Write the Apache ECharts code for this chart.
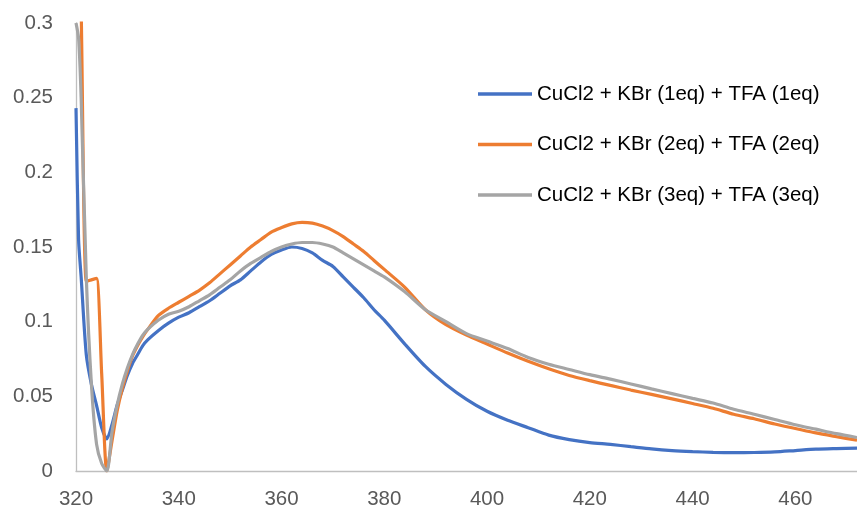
<!DOCTYPE html>
<html>
<head>
<meta charset="utf-8">
<script src="https://cdn.jsdelivr.net/npm/echarts@6/dist/echarts.min.js"></script>
<style>
  html, body { margin: 0; padding: 0; background: #ffffff; }
  #chart { width: 857px; height: 515px; }
</style>
</head>
<body>
<div id="chart"></div>
<script>
// Absorbance spectra (wavelength in nm)
const wavelengths = [
  320, 320.5, 321, 322, 323, 324, 325, 326, 327, 328, 329, 330, 331, 332, 333, 334,
  336, 338, 340, 342, 344, 346, 348, 350, 352, 354, 356, 358, 360, 362, 364, 366, 368, 370,
  372, 374, 376, 378, 380, 384, 388, 392, 396, 400, 404, 408, 412, 416, 420, 424, 428,
  432, 436, 440, 444, 448, 452, 456, 460, 464, 468, 472
];

const seriesNames = [
  'CuCl2 + KBr (1eq) + TFA (1eq)',
  'CuCl2 + KBr (2eq) + TFA (2eq)',
  'CuCl2 + KBr (3eq) + TFA (3eq)'
];

const absorbance1eq = [
  0.243, 0.155, 0.130, 0.078, 0.058, 0.044, 0.029, 0.0215, 0.031, 0.044, 0.054, 0.064, 0.072, 0.078, 0.084, 0.088,
  0.094, 0.099, 0.103, 0.106, 0.110, 0.114, 0.119, 0.124, 0.128, 0.134, 0.140, 0.145, 0.148, 0.150, 0.149, 0.146, 0.141, 0.137,
  0.130, 0.123, 0.116, 0.108, 0.101, 0.085, 0.070, 0.058, 0.048, 0.040, 0.034, 0.029, 0.024, 0.021, 0.019, 0.0178, 0.0163,
  0.0148, 0.0137, 0.0130, 0.0125, 0.0123, 0.0124, 0.0128, 0.0137, 0.0146, 0.0150, 0.0153
];

const absorbance2eq = [
  0.45, 0.38, 0.31, 0.127, 0.128, 0.129, 0.065, 0.0, 0.020, 0.040, 0.055, 0.067, 0.077, 0.084, 0.090, 0.095,
  0.104, 0.109, 0.113, 0.117, 0.121, 0.126, 0.132, 0.138, 0.144, 0.150, 0.155, 0.160, 0.163, 0.1655, 0.1665, 0.166, 0.164, 0.161,
  0.157, 0.152, 0.147, 0.141, 0.135, 0.123, 0.108, 0.098, 0.091, 0.085, 0.079, 0.0735, 0.0685, 0.064, 0.0605, 0.0573, 0.0542,
  0.0513, 0.0483, 0.0452, 0.042, 0.038, 0.035, 0.0315, 0.0285, 0.0255, 0.023, 0.0206
];

const absorbance3eq = [
  0.30, 0.29, 0.25, 0.13, 0.058, 0.018, 0.005, 0.0, 0.026, 0.044, 0.058, 0.069, 0.078, 0.085, 0.091, 0.095,
  0.101, 0.105, 0.107, 0.110, 0.114, 0.118, 0.123, 0.128, 0.134, 0.139, 0.143, 0.147, 0.150, 0.152, 0.153, 0.153, 0.152, 0.150,
  0.146, 0.142, 0.138, 0.134, 0.130, 0.120, 0.108, 0.100, 0.092, 0.087, 0.082, 0.076, 0.0715, 0.068, 0.0645, 0.0615, 0.0583,
  0.055, 0.0518, 0.0486, 0.0455, 0.0413, 0.038, 0.0345, 0.031, 0.028, 0.025, 0.0224
];

const seriesColors = ['#4472C4', '#ED7D31', '#A5A5A5'];

function pairs(values) {
  return wavelengths.map((w, i) => [w, values[i]]);
}

const chart = echarts.init(document.getElementById('chart'), null, { renderer: 'canvas' });

const labelFont = 'Liberation Sans, Arial, sans-serif';

chart.setOption({
  animation: false,
  backgroundColor: '#ffffff',
  grid: { left: 76, right: 0, top: 23, bottom: 44, containLabel: false },
  legend: {
    orient: 'vertical',
    left: 478,
    top: 82,
    padding: 0,
    icon: 'rect',
    itemWidth: 54,
    itemHeight: 3.5,
    itemGap: 26.5,
    textStyle: { fontFamily: labelFont, fontSize: 20.5, lineHeight: 24, color: '#000000' },
    data: seriesNames
  },
  xAxis: {
    type: 'value',
    min: 320,
    max: 472,
    interval: 20,
    axisLine: { show: true, lineStyle: { color: '#BFBFBF', width: 1.3 } },
    axisTick: { show: false },
    splitLine: { show: false },
    axisLabel: {
      showMaxLabel: false,
      margin: 18,
      fontFamily: labelFont,
      fontSize: 20.5,
      color: '#595959'
    }
  },
  yAxis: {
    type: 'value',
    min: 0,
    max: 0.3,
    interval: 0.05,
    axisLine: { show: true, lineStyle: { color: '#BFBFBF', width: 1.3 } },
    axisTick: { show: false },
    splitLine: { show: false },
    axisLabel: {
      margin: 23,
      fontFamily: labelFont,
      fontSize: 20.5,
      color: '#595959',
      formatter: v => String(+v.toFixed(2))
    }
  },
  series: [absorbance1eq, absorbance2eq, absorbance3eq].map((vals, i) => ({
    name: seriesNames[i],
    type: 'line',
    data: pairs(vals),
    showSymbol: false,
    symbol: 'none',
    clip: true,
    smooth: 0.25,
    color: seriesColors[i],
    itemStyle: { color: seriesColors[i] },
    lineStyle: { width: 3.2, color: seriesColors[i] }
  }))
});
</script>
</body>
</html>
